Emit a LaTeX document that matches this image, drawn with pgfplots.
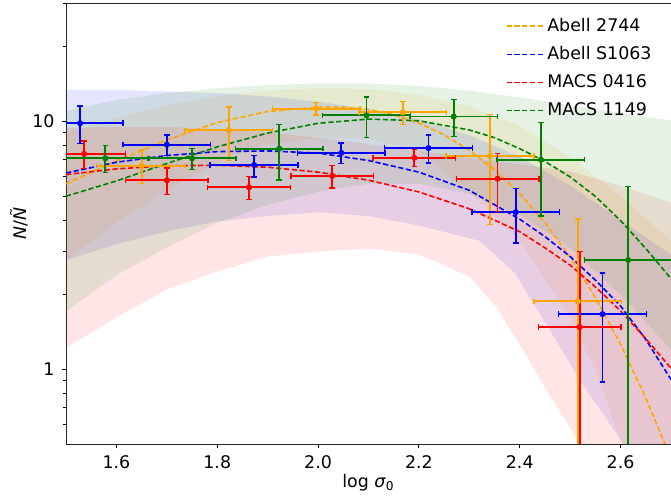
\documentclass[border=0pt]{standalone}
\usepackage{pgfplots}
\pgfplotsset{compat=1.18}
\usepackage{fontspec}
\setmainfont{DejaVu Sans}
\definecolor{mplorange}{RGB}{255,165,0}
\definecolor{mplgreen}{RGB}{0,128,0}
\newcommand{\lblfont}{\fontsize{8.7}{10.4}\selectfont}

\pgfplotsset{
  hbar/.style={forget plot, color=#1, line width=0.9pt, unbounded coords=jump,
    mark=|, mark size=1.4pt, mark options={solid, line width=0.7pt}},
  vbar/.style={forget plot, color=#1, line width=0.9pt, unbounded coords=jump,
    mark=-, mark size=1.4pt, mark options={solid, line width=0.7pt}},
  dots/.style={forget plot, color=#1, only marks, mark=*, mark size=1.3pt},
  fit/.style={color=#1, line width=0.8pt, dash pattern=on 2.6pt off 1.3pt},
  band/.style={forget plot, draw=none, fill=#1, fill opacity=0.1},
}

\begin{document}
\begin{tikzpicture}
\begin{axis}[
  name=ax, scale only axis, width=302.5pt, height=220.5pt,
  xmin=1.5, xmax=2.7, ymode=log, ymin=0.5, ymax=30,
  xtick={1.6,1.8,2.0,2.2,2.4,2.6}, xticklabels={1.6,1.8,2.0,2.2,2.4,2.6},
  ytick={1,10}, yticklabels={1,10},
  minor ytick={0.6,0.7,0.8,0.9,2,3,4,5,6,7,8,9,20,30},
  axis x line*=box, axis y line*=left,
  tick pos=left, tick align=outside,
  major tick length=2.2pt, minor tick length=1.3pt,
  every tick/.style={black, line width=0.45pt},
  axis line style={line width=0.45pt, black!85},
  tick label style={font=\lblfont},
  label style={font=\lblfont},
  xlabel={log \textit{σ}\textsubscript{0}},
  ylabel={\textit{N}/\textit{Ñ}},
  xlabel style={yshift=4pt},
  ylabel style={yshift=-4.5pt},
  legend style={at={(rel axis cs:0.985,0.985)}, anchor=north east, draw=none, fill=none, font=\lblfont, row sep=2pt},
  legend cell align=left,
  legend image code/.code={\draw[#1] (-5pt,0pt) -- (13pt,0pt);},
]
% uncertainty bands
\addplot[band=mplorange] coordinates {
(1.5,9.0)(1.6,10.3)(1.7,11.6)(1.8,12.6)(1.9,13.3)(2.0,13.6)(2.1,13.5)(2.2,12.8)(2.3,11.5)(2.4,9.6)(2.5,7.2)(2.6,5.0)(2.7,3.3)
(2.7,0.2)(2.65,0.3)(2.6,0.52)(2.55,1.0)(2.5,1.6)(2.4,3.3)(2.3,5.2)(2.2,7.6)(2.1,8.5)(2.0,8.6)(1.9,8.1)(1.86,7.7)(1.8,6.8)(1.7,5.3)(1.6,3.9)(1.5,2.75)} -- cycle;
\addplot[band=blue] coordinates {
(1.5,13.4)(1.6,13.4)(1.7,13.2)(1.8,13.0)(1.9,12.6)(2.0,12.0)(2.1,11.2)(2.2,10.2)(2.3,8.8)(2.4,7.2)(2.5,5.5)(2.6,4.0)(2.7,2.9)
(2.7,0.25)(2.6,0.52)(2.52,0.9)(2.45,1.55)(2.39,2.45)(2.32,3.3)(2.2,3.8)(2.1,4.15)(2.0,4.3)(1.9,4.15)(1.8,3.95)(1.7,3.6)(1.6,3.2)(1.5,2.75)} -- cycle;
\addplot[band=red] coordinates {
(1.5,9.4)(1.6,9.5)(1.7,9.5)(1.8,9.3)(1.9,9.0)(2.0,8.6)(2.1,8.1)(2.2,7.6)(2.3,7.1)(2.4,6.7)(2.5,6.3)(2.6,5.5)(2.7,4.7)
(2.7,0.2)(2.6,0.3)(2.518,0.5)(2.498,0.59)(2.452,0.83)(2.406,1.20)(2.353,1.79)(2.3,2.37)(2.2,2.90)(2.1,3.07)(2.0,2.98)(1.9,2.85)(1.8,2.48)(1.7,2.10)(1.6,1.62)(1.5,1.22)} -- cycle;
\addplot[band=mplgreen] coordinates {
(1.5,11.0)(1.6,12.2)(1.7,13.0)(1.8,13.6)(1.9,14.0)(2.0,14.2)(2.1,14.2)(2.2,13.9)(2.3,13.3)(2.4,12.5)(2.5,11.6)(2.6,10.8)(2.7,10.1)
(2.7,1.2)(2.6,2.0)(2.5,3.1)(2.4,4.2)(2.3,5.1)(2.2,5.6)(2.1,5.6)(2.0,5.2)(1.9,4.6)(1.8,3.9)(1.7,3.1)(1.6,2.4)(1.5,1.71)} -- cycle;

% fitted curves
\addplot[fit=mplorange] coordinates {
(1.5,5.60)(1.6,6.92)(1.7,8.41)(1.8,9.89)(1.9,10.96)(2.0,11.40)(2.05,11.40)(2.1,11.17)(2.15,10.64)(2.2,9.84)(2.25,8.83)(2.3,7.64)(2.35,6.38)(2.4,5.11)(2.45,3.91)(2.5,2.83)(2.55,1.95)(2.6,1.26)(2.65,0.767)(2.7,0.437)};
\addlegendentry{Abell 2744}
\addplot[fit=blue] coordinates {
(1.5,6.19)(1.6,6.84)(1.7,7.28)(1.8,7.55)(1.9,7.60)(2.0,7.45)(2.1,6.95)(2.2,6.24)(2.3,5.27)(2.4,4.03)(2.45,3.43)(2.5,2.85)(2.55,2.29)(2.6,1.80)(2.65,1.32)(2.7,0.91)};
\addlegendentry{Abell S1063}
\addplot[fit=red] coordinates {
(1.5,6.10)(1.6,6.43)(1.7,6.62)(1.8,6.65)(1.9,6.53)(2.0,6.24)(2.1,5.79)(2.2,5.19)(2.3,4.44)(2.4,3.59)(2.45,3.09)(2.5,2.63)(2.55,2.15)(2.6,1.72)(2.65,1.33)(2.7,1.01)};
\addlegendentry{MACS 0416}
\addplot[fit=mplgreen] coordinates {
(1.5,4.99)(1.6,5.75)(1.7,6.76)(1.8,7.89)(1.9,8.97)(2.0,9.82)(2.1,10.21)(2.2,10.05)(2.3,9.23)(2.35,8.59)(2.4,7.76)(2.45,6.89)(2.5,5.97)(2.55,4.98)(2.6,3.98)(2.65,3.07)(2.7,2.32)};
\addlegendentry{MACS 1149}

% Abell 2744 bins
\addplot[hbar=mplorange] coordinates {(1.563,6.63)(1.737,6.63) (nan,nan) (1.736,9.20)(1.910,9.20) (nan,nan) (1.909,11.25)(2.083,11.25) (nan,nan) (2.081,10.87)(2.255,10.87) (nan,nan) (2.254,7.25)(2.428,7.25) (nan,nan) (2.428,1.88)(2.602,1.88)};
\addplot[vbar=mplorange] coordinates {(1.650,5.60)(1.650,7.66) (nan,nan) (1.823,6.97)(1.823,11.43) (nan,nan) (1.996,10.60)(1.996,11.90) (nan,nan) (2.168,9.70)(2.168,12.04) (nan,nan) (2.341,3.83)(2.341,10.67) (nan,nan) (2.515,0.01)(2.515,4.04)};
\addplot[dots=mplorange] coordinates {(1.650,6.63)(1.823,9.20)(1.996,11.25)(2.168,10.87)(2.341,7.25)(2.515,1.88)};
% Abell S1063 bins
\addplot[hbar=blue] coordinates {(1.443,9.82)(1.613,9.82) (nan,nan) (1.613,8.05)(1.787,8.05) (nan,nan) (1.786,6.67)(1.960,6.67) (nan,nan) (1.959,7.46)(2.133,7.46) (nan,nan) (2.132,7.80)(2.306,7.80) (nan,nan) (2.305,4.30)(2.479,4.30) (nan,nan) (2.477,1.67)(2.651,1.67)};
\addplot[vbar=blue] coordinates {(1.528,8.12)(1.528,11.52) (nan,nan) (1.700,7.29)(1.700,8.81) (nan,nan) (1.873,5.97)(1.873,7.27) (nan,nan) (2.046,6.75)(2.046,8.18) (nan,nan) (2.219,6.80)(2.219,8.80) (nan,nan) (2.392,3.23)(2.392,5.37) (nan,nan) (2.564,0.89)(2.564,2.45)};
\addplot[dots=blue] coordinates {(1.528,9.82)(1.700,8.05)(1.873,6.67)(2.046,7.46)(2.219,7.80)(2.392,4.30)(2.564,1.67)};
% MACS 0416 bins
\addplot[hbar=red] coordinates {(1.454,7.39)(1.618,7.39) (nan,nan) (1.618,5.78)(1.782,5.78) (nan,nan) (1.781,5.42)(1.945,5.42) (nan,nan) (1.946,6.02)(2.110,6.02) (nan,nan) (2.109,7.13)(2.273,7.13) (nan,nan) (2.274,5.87)(2.438,5.87) (nan,nan) (2.437,1.48)(2.601,1.48)};
\addplot[vbar=red] coordinates {(1.536,6.44)(1.536,8.34) (nan,nan) (1.700,5.07)(1.700,6.49) (nan,nan) (1.863,4.84)(1.863,6.00) (nan,nan) (2.028,5.39)(2.028,6.65) (nan,nan) (2.191,6.57)(2.191,7.69) (nan,nan) (2.356,4.33)(2.356,7.41) (nan,nan) (2.519,0.01)(2.519,2.99)};
\addplot[dots=red] coordinates {(1.536,7.39)(1.700,5.78)(1.863,5.42)(2.028,6.02)(2.191,7.13)(2.356,5.87)(2.519,1.48)};
% MACS 1149 bins
\addplot[hbar=mplgreen] coordinates {(1.491,7.09)(1.665,7.09) (nan,nan) (1.663,7.09)(1.837,7.09) (nan,nan) (1.836,7.76)(2.010,7.76) (nan,nan) (2.009,10.57)(2.183,10.57) (nan,nan) (2.182,10.45)(2.356,10.45) (nan,nan) (2.355,7.01)(2.529,7.01) (nan,nan) (2.528,2.76)(2.702,2.76)};
\addplot[vbar=mplgreen] coordinates {(1.578,6.21)(1.578,7.97) (nan,nan) (1.750,6.40)(1.750,7.78) (nan,nan) (1.923,5.79)(1.923,9.73) (nan,nan) (2.096,8.59)(2.096,12.55) (nan,nan) (2.269,8.68)(2.269,12.22) (nan,nan) (2.442,4.15)(2.442,9.87) (nan,nan) (2.615,0.01)(2.615,5.47)};
\addplot[dots=mplgreen] coordinates {(1.578,7.09)(1.750,7.09)(1.923,7.76)(2.096,10.57)(2.269,10.45)(2.442,7.01)(2.615,2.76)};
\end{axis}
\pgfresetboundingbox
\path[use as bounding box] ([xshift=-33pt,yshift=-26.5pt]ax.south west) rectangle ([yshift=1.5pt]ax.north east);
\end{tikzpicture}
\end{document}
